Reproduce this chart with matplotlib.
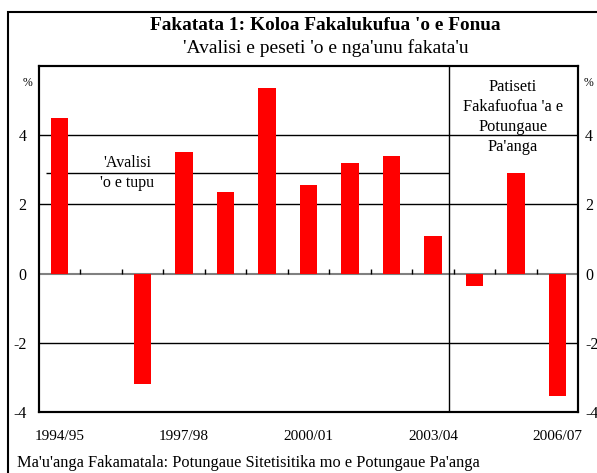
import matplotlib.pyplot as plt
from matplotlib.patches import Rectangle

plt.rcParams['font.family'] = ['Liberation Serif', 'DejaVu Serif']

# data
years = ['1994/95', '1995/96', '1996/97', '1997/98', '1998/99', '1999/00', '2000/01',
         '2001/02', '2002/03', '2003/04', '2004/05', '2005/06', '2006/07']
growth = [4.5, 0.0, -3.2, 3.5, 2.35, 5.35, 2.55, 3.2, 3.4, 1.1, -0.35, 2.9, -3.55]
avg_growth = 2.9
label_every = 3

W, H = 597, 473
fig = plt.figure(figsize=(W / 100, H / 100), dpi=100)

# outer frame (cut off at right and bottom like the source)
fig.patches.append(Rectangle((8 / W, -0.1), 1.2, 1.1 - 12 / H, transform=fig.transFigure,
                             fill=False, edgecolor='black', linewidth=1.5))

fig.text(325 / W, 1 - 25 / H, "Fakatata 1: Koloa Fakalukufua 'o e Fonua",
         ha='center', va='center', fontsize=13.9, fontweight='bold')
fig.text(326 / W, 1 - 48 / H, "'Avalisi e peseti 'o e nga'unu fakata'u",
         ha='center', va='center', fontsize=14)
fig.text(17 / W, 1 - 463 / H, "Ma'u'anga Fakamatala: Potungaue Sitetisitika mo e Potungaue Pa'anga",
         ha='left', va='center', fontsize=11.8)

left, right, top, bottom = 39, 578, 66, 412
ax = fig.add_axes([left / W, 1 - bottom / H, (right - left) / W, (bottom - top) / H])

x = list(range(len(years)))
ax.bar(x, growth, width=0.42, color='#ff0000', zorder=3)

ax.set_xlim(-0.5, len(years) - 0.5)
ax.set_ylim(-4, 6)

# gridlines
for g in [4, 2, -2]:
    ax.axhline(g, color='black', linewidth=1, zorder=1)
ax.axhline(0, color='#808080', linewidth=1.5, zorder=2)
# small ticks on the zero axis
ax.vlines([i + 0.5 for i in range(len(years) - 1)], 0, 0.12, color='black', linewidth=1, zorder=2)

# average line and forecast divider
ax.hlines(avg_growth, -0.33, 9.4, color='black', linewidth=1, zorder=2)
ax.axvline(9.4, color='black', linewidth=1, zorder=2)

ax.text(1.62, avg_growth, "'Avalisi\n'o e tupu", ha='center', va='center',
        fontsize=11.5, linespacing=1.35, zorder=4)
ax.text(10.93, 4.52, "Patiseti\nFakafuofua 'a e\nPotungaue\nPa'anga", ha='center', va='center',
        fontsize=11.8, linespacing=1.33, zorder=4)

ax.set_xticks(x[::label_every])
ax.set_xticklabels(years[::label_every], fontsize=11)
ax.tick_params(axis='x', length=0, pad=13)
ax.set_yticks([-4, -2, 0, 2, 4])
ax.set_yticklabels(['-4', '-2', '0', '2', '4'], fontsize=11.5)
ax.tick_params(axis='y', length=0, pad=9)

ax2 = ax.twinx()
ax2.set_ylim(-4, 6)
ax2.set_yticks([-4, -2, 0, 2, 4])
ax2.set_yticklabels(['-4', '-2', '0', '2', '4'], fontsize=11.5)
ax2.tick_params(axis='y', length=0, pad=5)

for a in (ax, ax2):
    for s in a.spines.values():
        s.set_linewidth(1.5)
        s.set_color('black')

ax.text(-0.013, 0.95, '%', transform=ax.transAxes, ha='right', va='center', fontsize=8.5)
ax.text(1.01, 0.95, '%', transform=ax.transAxes, ha='left', va='center', fontsize=8.5)

fig.savefig('out.png', dpi=100)
